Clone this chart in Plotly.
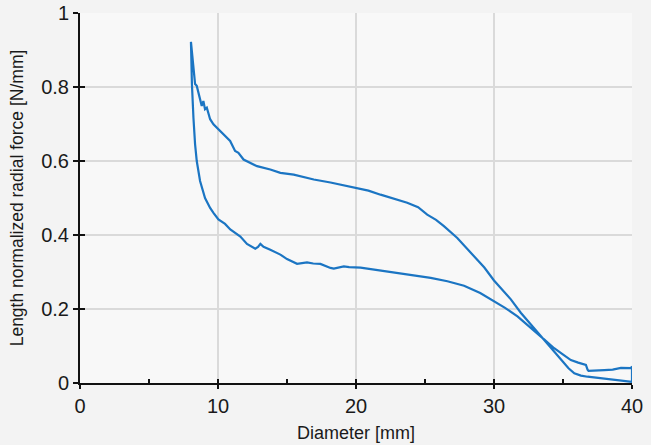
import plotly.graph_objects as go

# Lower (unloading) branch, from 40 mm down to 8 mm
lower_x = [40.0, 39.93, 39.2, 38.6, 38.0, 37.4, 36.85, 36.78, 36.66, 36.1, 35.57, 34.96,
           34.36, 33.63, 32.67, 31.7, 30.8, 30.0, 29.0, 27.83, 26.62, 25.41, 24.0, 22.99,
           21.78, 21.0, 20.33, 19.5, 19.12, 18.39, 18.15, 17.42, 16.9, 16.45, 16.0, 15.73,
           15.0, 14.52, 13.79, 13.3, 13.07, 12.9, 12.7, 12.1, 11.62, 10.89, 10.51, 10.03,
           9.67, 9.43, 9.06, 8.70, 8.46, 8.34, 8.22, 8.11]
lower_y = [0.045, 0.040, 0.041, 0.036, 0.035, 0.034, 0.033, 0.036, 0.049, 0.055, 0.062, 0.078,
           0.094, 0.118, 0.148, 0.180, 0.203, 0.221, 0.243, 0.263, 0.275, 0.284, 0.292, 0.297,
           0.304, 0.308, 0.312, 0.313, 0.315, 0.309, 0.311, 0.322, 0.323, 0.326, 0.323, 0.322,
           0.335, 0.347, 0.360, 0.368, 0.376, 0.368, 0.363, 0.376, 0.396, 0.415, 0.430, 0.442,
           0.460, 0.473, 0.500, 0.546, 0.600, 0.645, 0.717, 0.808]

# Upper (crimping) branch, from 8 mm up to 40 mm
upper_x = [8.04, 8.22, 8.34, 8.46, 8.70, 8.82, 8.94, 9.06, 9.19, 9.43, 9.67, 10.03, 10.39,
           10.88, 11.24, 11.48, 11.85, 12.22, 12.83, 13.79, 14.52, 15.49, 16.2, 16.94, 18.15,
           19.1, 20.08, 20.9, 21.78, 22.7, 23.71, 24.5, 25.16, 25.8, 26.37, 27.34, 28.07,
           28.55, 29.3, 30.0, 30.6, 31.22, 31.94, 32.8, 33.63, 34.2, 34.85, 35.4, 35.82, 36.3,
           36.78, 37.7, 38.72, 39.4, 39.93, 40.0]
upper_y = [0.922, 0.853, 0.808, 0.803, 0.767, 0.749, 0.762, 0.740, 0.744, 0.713, 0.699, 0.686,
           0.672, 0.654, 0.627, 0.622, 0.604, 0.597, 0.586, 0.577, 0.568, 0.563, 0.557, 0.550,
           0.542, 0.535, 0.528, 0.520, 0.509, 0.498, 0.487, 0.475, 0.455, 0.441, 0.424, 0.392,
           0.362, 0.342, 0.312, 0.277, 0.252, 0.226, 0.190, 0.152, 0.117, 0.090, 0.062, 0.040,
           0.026, 0.020, 0.017, 0.013, 0.010, 0.007, 0.004, 0.003]

x_ticks = [0, 10, 20, 30, 40]
y_ticks = [0, 0.2, 0.4, 0.6, 0.8, 1]
x_title = "Diameter [mm]"
y_title = "Length normalized radial force [N/mm]"

path_x = lower_x + upper_x + [lower_x[0]]
path_y = lower_y + upper_y + [lower_y[0]]

FONT = "Liberation Sans, Arial, sans-serif"
TXT = "#1a1a1a"

fig = go.Figure()
fig.add_trace(go.Scatter(x=path_x, y=path_y, mode="lines",
                         line=dict(color="#1b75c3", width=2.2), showlegend=False,
                         hoverinfo="skip"))
# dummy trace for overlay axes (inner half of crossing ticks)
fig.add_trace(go.Scatter(x=[], y=[], xaxis="x2", yaxis="y2", showlegend=False))

fig.update_layout(
    width=651, height=445,
    margin=dict(l=80, r=19, t=13, b=62),
    paper_bgcolor="#f3f3f3",
    plot_bgcolor="#f8f8f8",
    font=dict(family=FONT, color=TXT, size=19),
    xaxis=dict(range=[0, 40], tickvals=x_ticks, ticks="outside", ticklen=4,
               tickwidth=2, tickcolor="#111", showline=True, linecolor="#111",
               linewidth=2, showgrid=True, gridcolor="#dadada", gridwidth=1.5,
               zeroline=False, tickfont=dict(size=20), automargin=False,
               minor=dict(tickvals=[5, 15, 25, 35], ticks="inside", ticklen=4,
                          tickwidth=2, tickcolor="#111", showgrid=False),
               title=dict(text=x_title, font=dict(size=18), standoff=10)),
    yaxis=dict(range=[0, 1], tickvals=y_ticks, ticks="outside", ticklen=5,
               tickwidth=2, tickcolor="#111", showline=True, linecolor="#111",
               linewidth=2, showgrid=True, gridcolor="#dadada", gridwidth=1.5,
               zeroline=False, tickfont=dict(size=20), automargin=False,
               title=dict(text=y_title, font=dict(size=17.5), standoff=13)),
    xaxis2=dict(range=[0, 40], overlaying="x", anchor="y2", side="bottom",
                tickvals=x_ticks, ticks="inside", ticklen=4, tickwidth=2,
                tickcolor="#111", showticklabels=False, showgrid=False,
                zeroline=False, showline=False, automargin=False),
    yaxis2=dict(range=[0, 1], overlaying="y", anchor="x2", side="left",
                tickvals=y_ticks, ticks="inside", ticklen=5, tickwidth=2,
                tickcolor="#111", showticklabels=False, showgrid=False,
                zeroline=False, showline=False, automargin=False),
)

fig.write_html("out.html", config={"displayModeBar": False},
               post_script="document.body.style.margin='0';document.body.style.padding='0';")
